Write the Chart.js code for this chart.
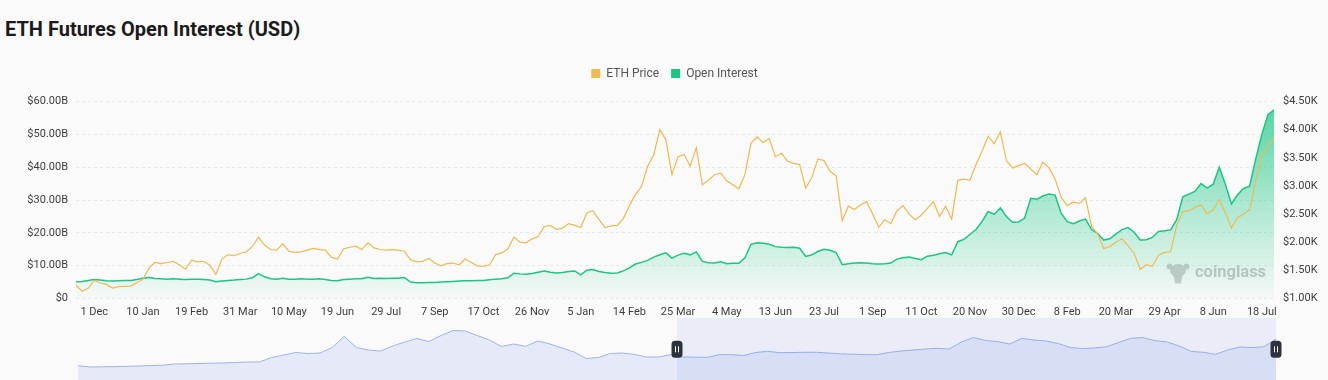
<!DOCTYPE html>
<html>
<head>
<meta charset="utf-8">
<script src="https://cdn.jsdelivr.net/npm/chart.js@4.4.1/dist/chart.umd.min.js"></script>
<style>
html,body{margin:0;padding:0;background:#fafafa;width:1328px;height:380px;overflow:hidden;font-family:Roboto,"Noto Sans",sans-serif;}
#title{position:absolute;left:5px;top:17px;font:700 20px/24px Roboto,"Noto Sans",sans-serif;color:#1b1b1b;white-space:nowrap;}
#main{position:absolute;left:0;top:0;}
#nav{position:absolute;left:60px;top:318px;}
</style>
</head>
<body>
<div id="title">ETH Futures Open Interest (USD)</div>
<canvas id="main" width="1328" height="319"></canvas>
<canvas id="nav" width="1240" height="62"></canvas>
<script>
// ---------- data ----------
const START_UTC = Date.UTC(2022, 10, 16); // first sample: 16 Nov 2022
const STEP_DAYS = 5;                      // one sample every 5 days
const MONTHS = ['Jan','Feb','Mar','Apr','May','Jun','Jul','Aug','Sep','Oct','Nov','Dec'];

const priceUSD = [
 1240,1130,1180,1320,1275,1250,1185,1210,1215,1220,
 1280,1340,1540,1640,1620,1640,1660,1600,1520,1680,
 1650,1660,1590,1430,1700,1780,1760,1800,1830,1920,
 2090,1950,1870,1860,1975,1840,1820,1830,1860,1890,
 1870,1860,1730,1700,1880,1910,1930,1870,1990,1900,
 1870,1860,1870,1860,1840,1690,1650,1660,1710,1630,
 1580,1620,1630,1600,1700,1640,1580,1570,1600,1780,
 1810,1880,2090,2000,1990,2060,2100,2280,2300,2230,
 2250,2330,2300,2260,2520,2560,2400,2260,2290,2300,
 2420,2650,2850,2990,3350,3550,4000,3820,3200,3520,
 3560,3350,3680,3020,3100,3200,3230,3090,3020,2950,
 3200,3760,3870,3770,3840,3520,3580,3440,3400,3380,
 2960,3150,3480,3450,3260,3180,2380,2640,2580,2660,
 2720,2500,2270,2400,2330,2560,2650,2500,2400,2480,
 2600,2720,2460,2640,2410,3100,3120,3100,3380,3620,
 3880,3750,3960,3450,3320,3360,3400,3300,3200,3420,
 3320,3120,2800,2650,2710,2690,2790,2280,2150,1890,
 1920,2000,2060,1940,1800,1520,1600,1570,1770,1820,
 1830,2300,2540,2560,2620,2660,2510,2570,2760,2530,
 2250,2440,2500,2580,3100,3550,3700,3860
];

const openInterestB = [
 5.1,5.2,5.5,5.8,5.6,5.4,5.3,5.4,5.5,5.5,
 5.8,6.2,6.4,6.1,6.0,5.9,6.0,5.9,5.8,5.9,
 5.9,5.8,5.6,5.1,5.3,5.5,5.6,5.8,5.9,6.3,
 7.6,6.6,6.0,5.9,6.2,5.9,5.9,6.0,5.9,5.9,
 6.0,5.8,5.5,5.4,5.8,5.9,6.0,6.0,6.5,6.1,
 6.2,6.1,6.2,6.2,6.4,5.0,4.8,4.8,4.9,4.9,
 5.0,5.1,5.2,5.3,5.4,5.4,5.5,5.5,5.7,5.9,
 6.0,6.3,7.7,7.5,7.4,7.6,8.0,8.4,8.0,7.8,
 7.9,8.2,8.4,7.2,8.6,8.8,8.2,7.9,7.7,7.8,
 8.4,9.3,10.5,11.0,11.6,12.6,13.3,13.9,12.3,13.2,
 13.8,13.3,14.2,11.3,10.9,10.8,11.2,10.6,10.7,10.7,
 12.4,16.5,17.0,16.8,16.5,15.8,15.6,15.5,15.6,15.3,
 12.8,13.3,14.3,15.0,14.7,14.0,10.3,10.6,10.8,10.9,
 10.8,10.6,10.5,10.6,10.8,12.0,12.4,12.6,12.2,11.8,
 12.9,13.2,13.6,14.0,13.3,17.3,18.0,19.5,21.0,23.5,
 26.5,25.6,27.6,25.0,23.2,23.3,24.5,30.5,30.2,31.2,
 31.8,31.5,26.0,23.4,22.8,23.6,24.2,21.0,19.8,17.8,
 18.2,19.6,21.0,21.6,20.2,17.8,17.9,18.6,20.4,20.6,
 20.9,24.0,31.0,31.8,32.6,35.0,33.6,34.8,40.0,34.8,
 28.8,31.6,33.5,34.2,42.5,50.0,56.0,57.5
];

const tickLabels = ['1 Dec','10 Jan','19 Feb','31 Mar','10 May','19 Jun','29 Jul','7 Sep','17 Oct','26 Nov',
 '5 Jan','14 Feb','25 Mar','4 May','13 Jun','23 Jul','1 Sep','11 Oct','20 Nov','30 Dec',
 '8 Feb','20 Mar','29 Apr','8 Jun','18 Jul'];
const TICK_FIRST = 3;   // sample index of "1 Dec"
const TICK_EVERY = 8;   // 8 samples = 40 days

// navigator (overview) series, relative level, and selected window (in navigator sample indices)
const navLevel = [
 14.3,13,13.2,13.4,13.7,14,14.4,14.8,16,16.2,
 16.5,16.8,17,17.5,18,18,22.5,25,27.5,26.5,
 27,32.5,43.7,32.5,30,29,34,38,41.5,38.5,
 44.5,49.5,49,44.5,40,33.5,36,33.7,39,36,
 32,28,21.5,22.5,26.5,27,25.5,23,23,25.5,
 23,22.8,22.7,25.3,25.3,24.5,27.5,28.7,27.3,27.5,
 27.7,27.7,27,26.2,25.8,25.5,25.3,27.5,29,30,
 31,31.7,31,38,42.5,39.5,38.3,36,41.7,40,
 39,36.5,32.5,31.5,32,33.3,37.5,41.7,42.5,39.3,
 38,34,28.6,27.7,25.7,30,33,32.5,33.2,41
];
const navWindow = [49.5, 99];

// ---------- chart ----------
const YELLOW = '#EFBA4E';
const GREEN = '#17C784';

const categories = priceUSD.map((_, i) => {
  const d = new Date(START_UTC + i * STEP_DAYS * 86400000);
  return d.getUTCDate() + ' ' + MONTHS[d.getUTCMonth()] + ' ' + d.getUTCFullYear();
});

Chart.defaults.font.family = 'Roboto, "Noto Sans", sans-serif';
Chart.defaults.color = '#3a3a3a';

function oiFill(context) {
  const chart = context.chart;
  const area = chart.chartArea;
  if (!area) return 'rgba(23,199,132,0.2)';
  const g = chart.ctx.createLinearGradient(0, area.top, 0, area.bottom);
  g.addColorStop(0, 'rgba(23,199,132,0.75)');
  g.addColorStop(0.5, 'rgba(23,199,132,0.36)');
  g.addColorStop(1, 'rgba(23,199,132,0.02)');
  return g;
}

const legendSpacer = {
  id: 'legendSpacer',
  beforeInit(chart) {
    const fit = chart.legend.fit;
    chart.legend.fit = function () { fit.call(this); this.height += 12; };
  }
};

const watermark = {
  id: 'watermark',
  beforeDatasetsDraw(chart) {
    const { ctx, chartArea: a } = chart;
    ctx.save();
    ctx.fillStyle = '#cccccc';
    const cx = a.right - 96, cy = a.bottom - 28;
    ctx.beginPath();
    ctx.ellipse(cx, cy, 8, 6.5, 0, 0, Math.PI * 2);
    ctx.fill();
    ctx.beginPath(); ctx.arc(cx - 8.5, cy - 4, 3, 0, Math.PI * 2); ctx.fill();
    ctx.beginPath(); ctx.arc(cx + 8.5, cy - 4, 3, 0, Math.PI * 2); ctx.fill();
    ctx.beginPath();
    ctx.moveTo(cx - 5, cy + 3); ctx.lineTo(cx + 5, cy + 3); ctx.lineTo(cx + 3, cy + 13); ctx.lineTo(cx - 3, cy + 13);
    ctx.closePath(); ctx.fill();
    ctx.fillStyle = '#c6c6c6';
    ctx.font = '700 16.5px Roboto, "Noto Sans", sans-serif';
    ctx.textBaseline = 'middle';
    ctx.textAlign = 'left';
    ctx.fillText('coinglass', a.right - 79, a.bottom - 25.5);
    ctx.restore();
  }
};

new Chart(document.getElementById('main'), {
  type: 'line',
  data: {
    labels: categories,
    datasets: [
      { label: 'ETH Price', data: priceUSD, yAxisID: 'y1', borderColor: YELLOW, backgroundColor: YELLOW,
        borderWidth: 1.2, pointRadius: 0, tension: 0, fill: false },
      { label: 'Open Interest', data: openInterestB, yAxisID: 'y', borderColor: GREEN, backgroundColor: oiFill,
        borderWidth: 1.5, pointRadius: 0, tension: 0, fill: 'origin' }
    ]
  },
  options: {
    responsive: false,
    animation: false,
    events: [],
    layout: { padding: { top: 55.5, left: 21, right: 0, bottom: 0 } },
    plugins: {
      legend: {
        position: 'top', align: 'center',
        labels: {
          boxWidth: 9, boxHeight: 9, padding: 12, color: '#555', font: { size: 12 },
          generateLabels: (chart) => chart.data.datasets.map((ds, i) => ({
            text: ds.label, fillStyle: ds.borderColor, strokeStyle: ds.borderColor,
            lineWidth: 0, hidden: false, datasetIndex: i, fontColor: '#555'
          }))
        }
      },
      tooltip: { enabled: false }
    },
    scales: {
      x: {
        type: 'category',
        grid: { display: false, drawTicks: false },
        border: { display: false },
        ticks: {
          autoSkip: false, maxRotation: 0, minRotation: 0, padding: 7, font: { size: 11 }, color: '#3d3d3d',
          callback: (v, i) => (i >= TICK_FIRST && (i - TICK_FIRST) % TICK_EVERY === 0) ? (tickLabels[(i - TICK_FIRST) / TICK_EVERY] || '') : ''
        },
        afterFit: s => { s.height = 20.5; }
      },
      y: {
        position: 'left', min: 0, max: 60,
        ticks: { stepSize: 10, padding: 8, font: { size: 11 }, color: '#3d3d3d',
          callback: v => v === 0 ? '$0' : '$' + v.toFixed(2) + 'B' },
        grid: { color: '#e8e8e8', drawTicks: false, lineWidth: 1 },
        border: { display: false, dash: [3, 3] },
        afterFit: s => { s.width = 55; }
      },
      y1: {
        position: 'right', min: 1000, max: 4500,
        ticks: { stepSize: 500, padding: 9, font: { size: 11 }, color: '#3d3d3d',
          callback: v => '$' + (v / 1000).toFixed(2) + 'K' },
        grid: { display: false, drawTicks: false },
        border: { display: false },
        afterFit: s => { s.width = 54; }
      }
    }
  },
  plugins: [legendSpacer, watermark]
});

// ---------- navigator ----------
const navOverlay = {
  id: 'navOverlay',
  afterDatasetsDraw(chart) {
    const { ctx, chartArea: a, scales: { x } } = chart;
    const x0 = x.getPixelForValue(navWindow[0]);
    const x1 = x.getPixelForValue(navWindow[1]);
    ctx.save();
    ctx.fillStyle = 'rgba(100,130,230,0.10)';
    ctx.fillRect(x0, a.top, x1 - x0, a.bottom - a.top);
    ctx.restore();
  },
  afterDraw(chart) {
    const { ctx, scales: { x } } = chart;
    const cy = 31.3;
    ctx.save();
    navWindow.forEach(v => {
      const cx = x.getPixelForValue(v);
      ctx.fillStyle = '#2e323d';
      ctx.beginPath();
      ctx.roundRect(cx - 5.5, cy - 8.5, 11, 17, 3.5);
      ctx.fill();
      ctx.strokeStyle = '#ffffff';
      ctx.lineWidth = 1;
      ctx.beginPath();
      ctx.moveTo(cx - 1.5, cy - 3); ctx.lineTo(cx - 1.5, cy + 3);
      ctx.moveTo(cx + 1.5, cy - 3); ctx.lineTo(cx + 1.5, cy + 3);
      ctx.stroke();
    });
    ctx.restore();
  }
};

new Chart(document.getElementById('nav'), {
  type: 'line',
  data: {
    labels: navLevel.map((_, i) => i),
    datasets: [{ data: navLevel, borderColor: '#a0b3ec', borderWidth: 1, pointRadius: 0, tension: 0,
      fill: 'origin', backgroundColor: '#e5e9f8' }]
  },
  options: {
    responsive: false, animation: false, events: [],
    layout: { padding: { left: 18, right: 24, top: 0, bottom: 0 } },
    plugins: { legend: { display: false }, tooltip: { enabled: false } },
    scales: { x: { display: false, offset: false }, y: { display: false, min: 0, max: 62 } }
  },
  plugins: [navOverlay]
});
</script>
</body>
</html>
